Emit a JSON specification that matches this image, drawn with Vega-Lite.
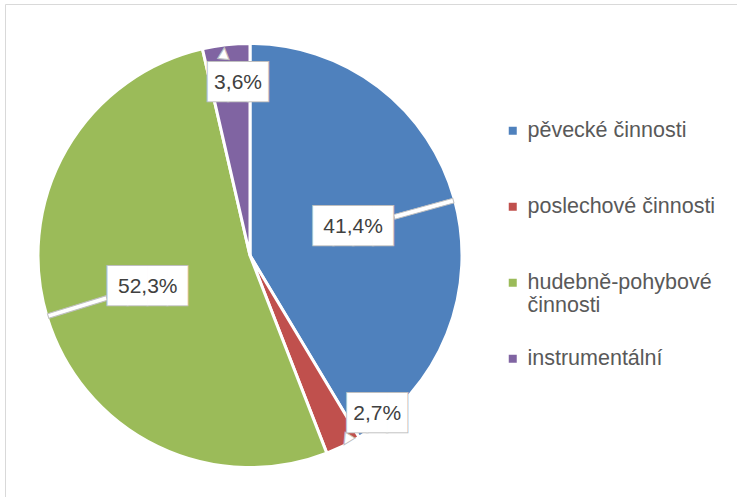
{
  "$schema": "https://vega.github.io/schema/vega-lite/v6.json",
  "autosize": "none",
  "width": 490,
  "height": 503,
  "padding": {"left": 5, "top": 4, "right": 242, "bottom": -10},
  "background": "white",
  "view": {"stroke": "#d9d9d9", "strokeWidth": 1, "strokeDash": [490, 993, 503, 0]},
  "config": {
    "locale": {"number": {"decimal": ",", "thousands": " ", "grouping": [3], "currency": ["", " Kč"]}},
    "view": {"stroke": "#d9d9d9", "strokeWidth": 1, "strokeDash": [490, 993, 503, 0]},
    "legend": {"strokeDash": [960, 3000], "strokeWidth": 1}
  },
  "data": {
    "values": [
      {"cat": "pěvecké činnosti", "value": 0.414, "idx": 1},
      {"cat": "poslechové činnosti", "value": 0.027, "idx": 2},
      {"cat": "hudebně-pohybové činnosti", "value": 0.523, "idx": 3},
      {"cat": "instrumentální", "value": 0.036, "idx": 4}
    ]
  },
  "layer": [
    {
      "mark": {"type": "arc", "outerRadius": 212, "stroke": "white", "strokeWidth": 3},
      "encoding": {
        "theta": {"field": "value", "type": "quantitative", "stack": true},
        "order": {"field": "idx", "type": "quantitative"},
        "color": {
          "field": "cat",
          "type": "nominal",
          "scale": {
            "domain": ["pěvecké činnosti", "poslechové činnosti", "hudebně-pohybové činnosti", "instrumentální"],
            "range": ["#4F81BD", "#C0504D", "#9BBB59", "#8064A2"]
          },
          "legend": {
            "orient": "none",
            "legendX": 381,
            "legendY": 0,
            "title": null,
            "padding": 116,
            "strokeColor": "#d9d9d9",
            "columns": 1,
            "gridAlign": "all",
            "symbolType": "square",
            "symbolSize": 64,
            "symbolStrokeWidth": 0,
            "symbolOpacity": 1,
            "labelFont": "Liberation Sans",
            "labelFontSize": 21.5,
            "labelColor": "#595959",
            "labelOffset": 4,
            "labelLimit": 300,
            "rowPadding": 30,
            "labelExpr": "datum.label == 'hudebně-pohybové činnosti' ? ['hudebně-pohybové', 'činnosti'] : datum.label"
          }
        }
      }
    },
    {
      "mark": {
        "type": "text",
        "font": "DejaVu Sans",
        "fontSize": 68,
        "fill": "white",
        "stroke": "#bfbfbf",
        "strokeWidth": 1,
        "align": "center",
        "baseline": "middle",
        "radius": 180,
        "angle": {"expr": "180 * (datum.value_start + datum.value_end) - 90"}
      },
      "encoding": {
        "theta": {"field": "value", "type": "quantitative", "stack": true},
        "order": {"field": "idx", "type": "quantitative"},
        "detail": {"field": "cat", "type": "nominal"},
        "text": {"value": "—"},
        "opacity": {"condition": {"test": "datum.value > 0.1", "value": 1}, "value": 0}
      }
    },
    {
      "mark": {
        "type": "text",
        "font": "DejaVu Sans",
        "fontSize": 15,
        "fill": "white",
        "stroke": "#bfbfbf",
        "strokeWidth": 1,
        "align": "center",
        "baseline": "middle",
        "radius": {"expr": "datum.value < 0.03 ? 209 : 205"},
        "thetaOffset": {"expr": "datum.value < 0.03 ? -0.024 : -0.014"},
        "angle": {"expr": "datum.value < 0.03 ? 212 : 5"}
      },
      "encoding": {
        "theta": {"field": "value", "type": "quantitative", "stack": true},
        "order": {"field": "idx", "type": "quantitative"},
        "detail": {"field": "cat", "type": "nominal"},
        "text": {"value": "▲"},
        "opacity": {"condition": {"test": "datum.value < 0.1", "value": 1}, "value": 0}
      }
    },
    {
      "mark": {
        "type": "text",
        "font": "DejaVu Sans Mono",
        "fontSize": 33,
        "fill": "white",
        "stroke": "#bfbfbf",
        "strokeWidth": 2,
        "align": "center",
        "baseline": "middle",
        "radius": {"expr": "datum.value < 0.03 ? 203 : datum.value < 0.05 ? 173 : 107"},
        "thetaOffset": {"expr": "datum.value < 0.03 ? -0.222 : datum.value < 0.05 ? 0.044 : 0"}
      },
      "encoding": {
        "theta": {"field": "value", "type": "quantitative", "stack": true},
        "order": {"field": "idx", "type": "quantitative"},
        "detail": {"field": "cat", "type": "nominal"},
        "text": {"condition": {"test": "datum.value > 0.1", "value": "████"}, "value": "███"}
      }
    },
    {
      "mark": {
        "type": "text",
        "font": "DejaVu Sans Mono",
        "fontSize": 33,
        "fill": "white",
        "align": "center",
        "baseline": "middle",
        "radius": {"expr": "datum.value < 0.03 ? 203 : datum.value < 0.05 ? 173 : 107"},
        "thetaOffset": {"expr": "datum.value < 0.03 ? -0.222 : datum.value < 0.05 ? 0.044 : 0"}
      },
      "encoding": {
        "theta": {"field": "value", "type": "quantitative", "stack": true},
        "order": {"field": "idx", "type": "quantitative"},
        "detail": {"field": "cat", "type": "nominal"},
        "text": {"condition": {"test": "datum.value > 0.1", "value": "████"}, "value": "███"}
      }
    },
    {
      "mark": {
        "type": "text",
        "font": "Liberation Sans",
        "fontSize": 21,
        "fill": "#404040",
        "align": "center",
        "baseline": "middle",
        "radius": {"expr": "datum.value < 0.03 ? 203 : datum.value < 0.05 ? 173 : 107"},
        "thetaOffset": {"expr": "datum.value < 0.03 ? -0.222 : datum.value < 0.05 ? 0.044 : 0"}
      },
      "encoding": {
        "theta": {"field": "value", "type": "quantitative", "stack": true},
        "order": {"field": "idx", "type": "quantitative"},
        "detail": {"field": "cat", "type": "nominal"},
        "text": {"field": "value", "type": "quantitative", "format": ".1%"}
      }
    }
  ]
}
